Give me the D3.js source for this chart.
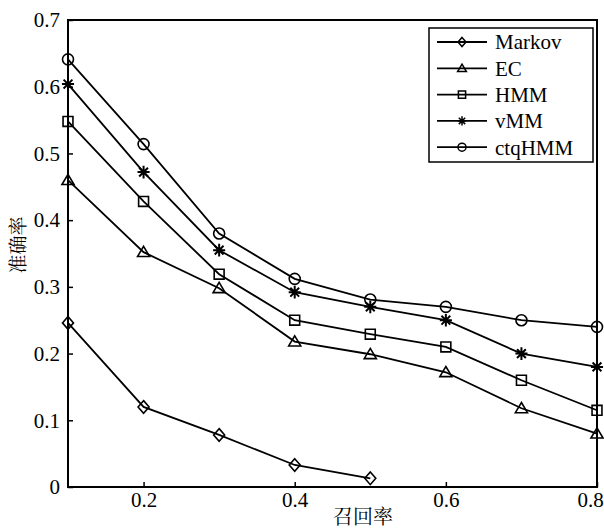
<!DOCTYPE html>
<html>
<head>
<meta charset="utf-8">
<script src="https://cdn.jsdelivr.net/npm/d3@7"></script>
<style>
  body { margin: 0; background: #fff; }
  svg text { font-family: "Liberation Serif", "Times New Roman", serif; fill: #000; }
  svg .cjk { font-family: "Noto Serif CJK SC", "Noto Sans CJK SC", serif; }
</style>
</head>
<body>
<div class="chart"></div>
<script>
// data
const recall = [0.1, 0.2, 0.3, 0.4, 0.5, 0.6, 0.7, 0.8];
const markov = [0.246, 0.120, 0.078, 0.033, 0.013];
const ec     = [0.460, 0.352, 0.298, 0.218, 0.199, 0.172, 0.118, 0.080];
const hmm    = [0.548, 0.428, 0.319, 0.250, 0.229, 0.210, 0.160, 0.115];
const vmm    = [0.604, 0.472, 0.355, 0.292, 0.270, 0.250, 0.200, 0.180];
const ctqhmm = [0.641, 0.514, 0.380, 0.312, 0.281, 0.270, 0.250, 0.240];
const seriesNames = ["Markov", "EC", "HMM", "vMM", "ctqHMM"];
const xTicks = [0.2, 0.4, 0.6, 0.8];
const yTicks = [0, 0.1, 0.2, 0.3, 0.4, 0.5, 0.6, 0.7];

// marker shapes (r = half size)
const shapes = {
  diamond: r => `M0,${-r*1.15}L${r},0L0,${r*1.15}L${-r},0Z`,
  triangle: r => `M0,${-r*1.05}L${r*1.1},${r*0.8}L${-r*1.1},${r*0.8}Z`,
  square: r => `M${-r*0.9},${-r*0.9}H${r*0.9}V${r*0.9}H${-r*0.9}Z`,
  star: r => {
    const d = r * 0.8;
    return `M0,${-r*1.15}V${r*1.15}M${-r*1.1},0H${r*1.1}M${-d},${-d}L${d},${d}M${-d},${d}L${d},${-d}`;
  },
  circle: r => `M${r},0A${r},${r} 0 1,1 ${-r},0A${r},${r} 0 1,1 ${r},0Z`
};

const series = [
  {name: seriesNames[0], values: markov, shape: "diamond"},
  {name: seriesNames[1], values: ec, shape: "triangle"},
  {name: seriesNames[2], values: hmm, shape: "square"},
  {name: seriesNames[3], values: vmm, shape: "star"},
  {name: seriesNames[4], values: ctqhmm, shape: "circle"}
];

const W = 604, H = 530;
const margin = {top: 20, right: 7, bottom: 43, left: 68};
const width = W - margin.left - margin.right;
const height = H - margin.top - margin.bottom;

const svg = d3.select(".chart").append("svg")
  .attr("width", W).attr("height", H);
const g = svg.append("g")
  .attr("transform", `translate(${margin.left},${margin.top})`);

const x = d3.scaleLinear().domain([0.1, 0.8]).range([0, width]);
const y = d3.scaleLinear().domain([0, 0.7]).range([height, 0]);

// axes with inward ticks
const xAxis = g.append("g")
  .attr("transform", `translate(0,${height})`)
  .call(d3.axisBottom(x).tickValues(xTicks).tickSizeInner(-5).tickSizeOuter(0)
    .tickPadding(5).tickFormat(d3.format("")));
const yAxis = g.append("g")
  .call(d3.axisLeft(y).tickValues(yTicks).tickSizeInner(-5).tickSizeOuter(0)
    .tickPadding(8).tickFormat(d => d === 0 ? "0" : d3.format(".1f")(d)));

[xAxis, yAxis].forEach(a => {
  a.attr("font-family", null);
  a.select(".domain").remove();
  a.selectAll(".tick line").attr("stroke", "#000").attr("stroke-width", 1.5);
  a.selectAll(".tick text").attr("font-size", 21);
});
// last x label sits a bit left so it stays inside the picture
xAxis.selectAll(".tick text").filter(d => d === 0.8).attr("dx", -7);

// frame
g.append("rect")
  .attr("width", width).attr("height", height)
  .attr("fill", "none").attr("stroke", "#000").attr("stroke-width", 2);

// lines + markers
const line = d3.line()
  .x((d, i) => x(recall[i]))
  .y(d => y(d));

series.forEach(s => {
  g.append("path")
    .datum(s.values)
    .attr("fill", "none")
    .attr("stroke", "#000")
    .attr("stroke-width", 1.8)
    .attr("d", line);
  g.selectAll(null)
    .data(s.values)
    .enter().append("path")
    .attr("transform", (d, i) => `translate(${x(recall[i])},${y(d)})`)
    .attr("d", shapes[s.shape](5.5))
    .attr("fill", "none")
    .attr("stroke", "#000")
    .attr("stroke-width", s.shape === "star" ? 2 : 1.6);
});

// axis titles
svg.append("text")
  .attr("class", "cjk")
  .attr("x", 363).attr("y", 517)
  .attr("dy", "0.35em")
  .attr("text-anchor", "middle")
  .attr("font-size", 20)
  .text("召回率");
svg.append("text")
  .attr("class", "cjk")
  .attr("transform", "translate(16,245) rotate(-90)")
  .attr("dominant-baseline", "central")
  .attr("text-anchor", "middle")
  .attr("font-size", 19)
  .text("准确率");

// legend
const lg = svg.append("g");
lg.append("rect")
  .attr("x", 429).attr("y", 28)
  .attr("width", 164).attr("height", 134)
  .attr("fill", "#fff").attr("stroke", "#000").attr("stroke-width", 1.5);
series.forEach((s, i) => {
  const ly = 42 + i * 26.3;
  lg.append("line")
    .attr("x1", 437).attr("x2", 487)
    .attr("y1", ly).attr("y2", ly)
    .attr("stroke", "#000").attr("stroke-width", 1.8);
  lg.append("path")
    .attr("transform", `translate(462,${ly})`)
    .attr("d", shapes[s.shape](4))
    .attr("fill", "none").attr("stroke", "#000").attr("stroke-width", 1.5);
  lg.append("text")
    .attr("x", 495).attr("y", ly)
    .attr("dy", "0.35em")
    .attr("font-size", 21)
    .text(s.name);
});
</script>
</body>
</html>
